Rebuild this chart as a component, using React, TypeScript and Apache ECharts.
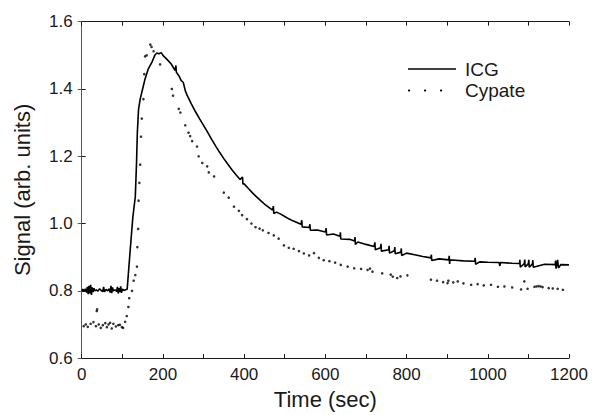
import React, { useEffect, useRef } from "react";
import * as echarts from "echarts";

const xTicks = [0, 200, 400, 600, 800, 1000, 1200];
const yTicks = [0.6, 0.8, 1.0, 1.2, 1.4, 1.6];

const icgBaseline: [number, number][] = [
  [0, 0.8], [3, 0.805], [6, 0.798], [9, 0.806], [12, 0.795], [14, 0.812], [16, 0.79], [18, 0.815],
  [20, 0.792], [22, 0.818], [24, 0.788], [26, 0.81], [28, 0.796], [30, 0.808], [32, 0.8], [36, 0.803],
  [40, 0.799], [44, 0.806], [48, 0.801], [52, 0.798], [54, 0.812], [56, 0.797], [60, 0.804], [64, 0.8],
  [68, 0.806], [70, 0.795], [72, 0.815], [74, 0.793], [76, 0.81], [78, 0.8], [82, 0.803], [86, 0.798],
  [88, 0.812], [90, 0.792], [92, 0.808], [94, 0.796], [96, 0.813], [98, 0.794], [100, 0.805], [104, 0.801],
  [108, 0.803], [112, 0.805],
];

const icgWashout: [number, number][] = [
  [120, 0.93], [126, 1.02], [132, 1.08], [135, 1.18], [137, 1.27], [140, 1.34], [144, 1.37], [150, 1.4],
  [156, 1.43], [164, 1.46], [173, 1.48], [180, 1.5], [185, 1.507], [190, 1.505], [196, 1.508], [200, 1.5],
  [210, 1.488], [220, 1.475], [230, 1.455], [232, 1.47], [233, 1.45], [240, 1.438], [245, 1.425], [250, 1.42],
  [255, 1.395], [260, 1.38], [270, 1.356], [280, 1.333], [290, 1.312], [300, 1.292], [310, 1.272],
  [320, 1.25], [330, 1.23], [340, 1.211], [350, 1.193], [360, 1.176], [370, 1.16], [380, 1.145],
  [390, 1.131], [396, 1.138], [397, 1.118], [400, 1.118], [410, 1.105], [420, 1.092], [430, 1.08],
  [440, 1.069], [450, 1.058], [460, 1.049], [470, 1.04], [472, 1.052], [473, 1.03], [480, 1.034],
  [490, 1.028], [500, 1.021], [510, 1.014], [520, 1.008], [530, 1.003], [540, 0.998], [542, 1.01],
  [543, 0.99], [560, 0.988], [562, 0.998], [563, 0.98], [580, 0.981], [600, 0.975], [602, 0.986],
  [603, 0.966], [620, 0.969], [636, 0.962], [637, 0.974], [638, 0.954], [660, 0.953], [672, 0.948],
  [673, 0.96], [674, 0.938], [680, 0.945], [700, 0.938], [720, 0.932], [722, 0.944], [723, 0.922],
  [736, 0.928], [737, 0.94], [738, 0.918], [756, 0.922], [757, 0.934], [758, 0.912], [770, 0.919],
  [771, 0.93], [772, 0.91], [786, 0.915], [787, 0.926], [788, 0.905], [800, 0.912], [820, 0.907],
  [840, 0.902], [860, 0.898], [861, 0.908], [862, 0.89], [880, 0.895], [904, 0.892], [905, 0.904],
  [906, 0.88], [907, 0.892], [920, 0.891], [940, 0.889], [968, 0.888], [969, 0.898], [970, 0.879],
  [980, 0.886], [1000, 0.885], [1028, 0.884], [1029, 0.878], [1030, 0.874], [1031, 0.884],
  [1060, 0.882], [1078, 0.881], [1079, 0.892], [1080, 0.87], [1090, 0.881], [1091, 0.893], [1092, 0.871],
  [1100, 0.881], [1101, 0.892], [1102, 0.87], [1110, 0.88], [1111, 0.891], [1112, 0.87], [1140, 0.879],
  [1166, 0.878], [1167, 0.89], [1168, 0.866], [1170, 0.878], [1172, 0.892], [1174, 0.868], [1180, 0.878],
  [1200, 0.877],
];

const cypate: [number, number][] = [
  [5, 0.695], [10, 0.7], [15, 0.693], [22, 0.702], [29, 0.707], [35, 0.695], [37, 0.74], [38, 0.745],
  [42, 0.7], [47, 0.69], [52, 0.698], [58, 0.704], [62, 0.692], [66, 0.7], [70, 0.705], [74, 0.688],
  [78, 0.702], [84, 0.694], [90, 0.698], [94, 0.699], [99, 0.692], [102, 0.69], [107, 0.708], [111, 0.725],
  [115, 0.752], [117, 0.778], [124, 0.8], [128, 0.83], [132, 0.847], [136, 0.872], [137, 0.93], [139, 0.984],
  [140, 1.068], [142, 1.121], [144, 1.175], [146, 1.258], [148, 1.312], [152, 1.37], [154, 1.444],
  [156, 1.497], [160, 1.5], [169, 1.532], [172, 1.525], [177, 1.512], [193, 1.473], [222, 1.4],
  [225, 1.38], [239, 1.341], [243, 1.33], [255, 1.292], [263, 1.27], [267, 1.26], [272, 1.245],
  [284, 1.229], [288, 1.2], [297, 1.18], [309, 1.17], [313, 1.152], [326, 1.14], [350, 1.092],
  [362, 1.077], [375, 1.05], [387, 1.038], [395, 1.025], [407, 1.013], [418, 1.0], [428, 0.989],
  [438, 0.985], [446, 0.98], [460, 0.972], [473, 0.965], [485, 0.955], [498, 0.935], [510, 0.928],
  [522, 0.925], [535, 0.918], [547, 0.911], [560, 0.905], [572, 0.912], [584, 0.898], [596, 0.891],
  [610, 0.888], [624, 0.884], [638, 0.877], [655, 0.872], [671, 0.867], [688, 0.865], [704, 0.862],
  [710, 0.866], [716, 0.857], [740, 0.852], [761, 0.848], [766, 0.842], [777, 0.838], [785, 0.843],
  [802, 0.846], [860, 0.833], [875, 0.83], [890, 0.826], [901, 0.823], [903, 0.83], [915, 0.825],
  [926, 0.828], [940, 0.822], [959, 0.818], [975, 0.82], [990, 0.816], [1008, 0.818], [1025, 0.812],
  [1041, 0.813], [1060, 0.81], [1082, 0.804], [1090, 0.828], [1098, 0.806], [1115, 0.812], [1120, 0.813],
  [1125, 0.814], [1130, 0.813], [1135, 0.811], [1150, 0.808], [1160, 0.807], [1172, 0.806],
  [1185, 0.803], [1201, 0.801],
];

const FONT = "Liberation Sans, Arial, sans-serif";
const INK = "#1a1a1a";

export default function App() {
  const ref = useRef<HTMLDivElement>(null);
  useEffect(() => {
    if (!ref.current) return;
    const chart = echarts.init(ref.current, undefined, { renderer: "svg" });
    const icg = [...icgBaseline, ...icgWashout];
    const axisLine = { show: true, lineStyle: { color: INK, width: 1 } };
    chart.setOption({
      animation: false,
      backgroundColor: "#fff",
      grid: { left: 81.7, right: 23, top: 21.7, bottom: 52.3 },
      xAxis: [
        {
          type: "value",
          min: xTicks[0],
          max: xTicks[xTicks.length - 1],
          interval: 200,
          position: "bottom",
          name: "Time (sec)",
          nameLocation: "middle",
          nameGap: 27,
          nameTextStyle: { fontFamily: FONT, fontSize: 22, color: INK },
          axisLine,
          axisTick: { show: true, inside: true, length: 4, lineStyle: { color: INK } },
          minorTick: { show: true, splitNumber: 2, length: 4, lineStyle: { color: INK } },
          axisLabel: { fontFamily: FONT, fontSize: 17, color: INK, margin: 8, formatter: (v: number) => String(v) },
          splitLine: { show: false },
          minorSplitLine: { show: false },
        },
        {
          type: "value",
          min: xTicks[0],
          max: xTicks[xTicks.length - 1],
          interval: 100,
          position: "top",
          axisLine,
          axisTick: { show: true, inside: true, length: 4, lineStyle: { color: INK } },
          axisLabel: { show: false },
          splitLine: { show: false },
        },
      ],
      yAxis: [
        {
          type: "value",
          min: yTicks[0],
          max: yTicks[yTicks.length - 1],
          interval: 0.2,
          position: "left",
          name: "Signal (arb. units)",
          nameLocation: "middle",
          nameGap: 48,
          nameTextStyle: { fontFamily: FONT, fontSize: 22, color: INK },
          axisLine,
          axisTick: { show: true, inside: true, length: 4, lineStyle: { color: INK } },
          axisLabel: {
            fontFamily: FONT,
            fontSize: 17,
            color: INK,
            margin: 9,
            formatter: (v: number) => v.toFixed(1),
          },
          splitLine: { show: false },
        },
        {
          type: "value",
          min: yTicks[0],
          max: yTicks[yTicks.length - 1],
          interval: 0.2,
          position: "right",
          axisLine: { show: true, lineStyle: { color: "#555", width: 1 } },
          axisTick: { show: true, inside: true, length: 4, lineStyle: { color: "#555" } },
          axisLabel: { show: false },
          splitLine: { show: false },
        },
      ],
      series: [
        {
          name: "ICG",
          type: "line",
          data: icg,
          showSymbol: false,
          symbol: "none",
          lineStyle: { color: "#000", width: 1.6 },
          xAxisIndex: 0,
          yAxisIndex: 0,
          z: 3,
        },
        {
          name: "Cypate",
          type: "scatter",
          data: cypate,
          symbol: "circle",
          symbolSize: 2.6,
          itemStyle: { color: "#000" },
          xAxisIndex: 0,
          yAxisIndex: 0,
          z: 4,
        },
      ],
      graphic: [
        { type: "line", shape: { x1: 408, y1: 69, x2: 456, y2: 69 }, style: { stroke: "#000", lineWidth: 1.6 } },
        { type: "text", x: 465, y: 69, style: { text: "ICG", fontFamily: FONT, fontSize: 19, fill: INK, verticalAlign: "middle" } },
        { type: "circle", shape: { cx: 409, cy: 90.5, r: 1.1 }, style: { fill: "#000" } },
        { type: "circle", shape: { cx: 425, cy: 90.5, r: 1.1 }, style: { fill: "#000" } },
        { type: "circle", shape: { cx: 441, cy: 90.5, r: 1.1 }, style: { fill: "#000" } },
        { type: "text", x: 465, y: 90, style: { text: "Cypate", fontFamily: FONT, fontSize: 19, fill: INK, verticalAlign: "middle" } },
      ],
    });
    return () => chart.dispose();
  }, []);
  return (
    <div
      ref={ref}
      style={{ position: "fixed", left: 0, top: 0, width: 592, height: 415, background: "#fff" }}
    />
  );
}
